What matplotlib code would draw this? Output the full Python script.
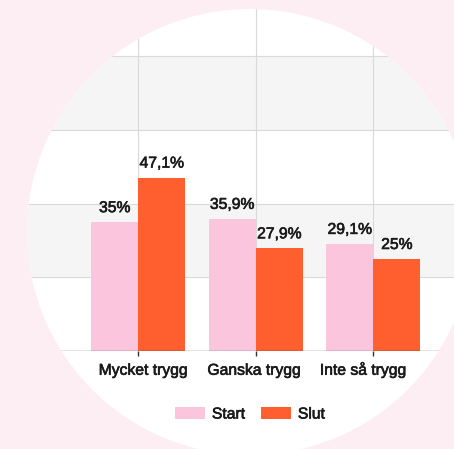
import matplotlib
matplotlib.use("Agg")
import matplotlib.pyplot as plt
import matplotlib.patheffects as pe
import matplotlib.transforms as mtransforms
from matplotlib.patches import Circle
import numpy as np

categories = ["Mycket trygg", "Ganska trygg", "Inte så trygg"]
start_vals = [35, 35.9, 29.1]
slut_vals = [47.1, 27.9, 25]
start_labels = ["35%", "35,9%", "29,1%"]
slut_labels = ["47,1%", "27,9%", "25%"]

pink_bg = "#fdeef3"
pink_bar = "#fbc6dd"
orange_bar = "#ff5f2f"
band = "#f5f5f5"
grid_c = "#d9d9d9"
txt = "#1a1a1a"

plt.rcParams['font.family'] = ['Liberation Sans', 'DejaVu Sans']
plt.rcParams['font.size'] = 11.3
# slightly heavier text, like a medium weight
thick = [pe.withStroke(linewidth=0.45, foreground=txt)]

fig = plt.figure(figsize=(4.54, 4.49), dpi=100, facecolor=pink_bg)

# white circle behind the chart, also used to clip everything
circ = Circle((2.50, 2.17), 2.23, transform=fig.dpi_scale_trans,
              facecolor="white", edgecolor="none", zorder=0)
fig.add_artist(circ)

ax = fig.add_axes([0, (449 - 351) / 449, 1, 351 / 449])
ax.set_facecolor("none")

x = np.arange(len(categories))
w = 0.4

ax.set_xlim(-1.177, 2.687)
ax.set_ylim(0, 95.3)

b1 = ax.bar(x - w / 2, start_vals, w, color=pink_bar, zorder=2, label="Start")
b2 = ax.bar(x + w / 2, slut_vals, w, color=orange_bar, zorder=2, label="Slut")
for t in ax.bar_label(b1, labels=start_labels, padding=5, color=txt, fontsize=11.3):
    t.set_path_effects(thick)
for t in ax.bar_label(b2, labels=slut_labels, padding=5, color=txt, fontsize=11.3):
    t.set_path_effects(thick)

spans = [ax.axhspan(20, 40, color=band, zorder=0, lw=0),
         ax.axhspan(60, 80, color=band, zorder=0, lw=0)]

ax.set_yticks([20, 40, 60, 80])
ax.set_xticks(x)
ax.set_xticklabels(categories, color=txt, fontsize=11.3, va="baseline")
ax.tick_params(axis="y", length=0, labelleft=False)
ax.tick_params(axis="x", length=3.6, width=1, color="#333333", pad=13.5)
ax.set_axisbelow(True)
ax.grid(True, color=grid_c, lw=0.8)

# labels in the original sit a bit off the tick centres
shifts = [5, -1.5, -10]
for lab, dx in zip(ax.get_xticklabels(), shifts):
    lab.set_transform(lab.get_transform() + mtransforms.Affine2D().translate(dx, 0))
    lab.set_path_effects(thick)

for s in ["left", "right", "top"]:
    ax.spines[s].set_visible(False)
ax.spines["bottom"].set_color("#333333")
ax.spines["bottom"].set_linewidth(0.9)

for a in spans + ax.get_xgridlines() + ax.get_ygridlines() + [ax.spines["bottom"]]:
    a.set_clip_path(circ)

leg = fig.legend(handles=[b1, b2], labels=["Start", "Slut"], ncol=2, frameon=False,
                 loc="center", bbox_to_anchor=(250 / 454, 1 - 414 / 449),
                 handlelength=1.9, handleheight=0.8, handletextpad=0.45,
                 columnspacing=1.0, fontsize=11.3, labelcolor=txt)
for t in leg.get_texts():
    t.set_path_effects(thick)

fig.savefig("out.png", dpi=100, facecolor=pink_bg)
